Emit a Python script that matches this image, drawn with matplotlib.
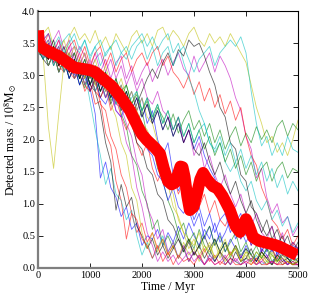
import numpy as np
import matplotlib
matplotlib.use("Agg")
import matplotlib.pyplot as plt

plt.rcParams['font.family'] = ['Liberation Serif', 'DejaVu Serif']
plt.rcParams['mathtext.fontset'] = 'stix'

# individual runs, sampled every 100 Myr from 0 to 5000
b1 = [3.5,3.3,3.45,3.2,3.4,3.15,3.3,3.0,3.2,2.95,2.8,2.4,1.4,1.65,1.25,1.1,0.8,0.95,0.6,0.7,0.35,0.5,0.45,0.6,0.35,0.55,0.4,0.65,0.45,0.7,0.5,0.35,0.6,0.45,0.7,0.4,0.55,0.75,0.45,0.6,0.4,0.55,0.35,0.5,0.3,0.45,0.25,0.4,0.2,0.35,0.3]
g1 = [3.4,3.55,3.25,3.45,3.15,3.35,3.05,3.25,2.95,3.15,2.85,3.05,2.75,2.95,2.6,2.75,2.4,2.2,1.75,1.6,1.2,1.0,0.6,0.75,0.35,0.5,0.3,0.55,0.25,0.45,0.3,0.6,0.35,0.2,0.45,0.25,0.4,0.15,0.35,0.2,0.3,0.1,0.25,0.15,0.3,0.1,0.2,0.15,0.05,0.15,0.1]
r1 = [3.6,3.35,3.5,3.2,3.35,3.1,3.25,2.95,3.05,2.75,2.9,2.55,2.6,2.1,1.9,1.35,1.05,0.45,0.85,0.55,0.7,0.4,0.55,0.3,0.45,0.2,0.35,0.15,0.3,0.1,0.25,0.15,0.3,0.1,0.2,0.05,0.15,0.25,0.1,0.05,0.15,0.1,0.05,0.15,0.05,0.1,0.05,0.1,0.05,0.1,0.05]
c1 = [3.3,3.45,3.15,3.35,3.05,3.25,2.95,3.15,2.85,3.05,2.6,2.15,1.75,1.3,1.55,1.15,1.05,0.75,0.9,0.5,0.2,0.4,0.15,0.3,0.5,0.25,0.4,0.15,0.3,0.1,0.25,0.15,0.05,0.2,0.1,0.25,0.05,0.15,0.1,0.05,0.15,0.1,0.2,0.05,0.1,0.05,0.15,0.05,0.1,0.05,0.05]
m1 = [3.5,3.65,3.35,3.55,3.7,3.4,3.55,3.25,3.45,3.3,3.1,3.35,3.05,3.25,2.95,3.2,3.3,2.95,3.15,2.85,3.05,3.2,2.9,3.1,3.25,3.0,3.2,3.35,3.1,3.0,3.3,3.05,3.2,3.35,3.05,3.3,3.15,2.95,2.65,2.45,2.05,1.85,1.4,1.55,1.1,0.85,1.0,0.7,0.8,0.5,0.65]
y1 = [3.4,3.3,2.2,1.55,2.4,3.2,3.6,3.75,3.55,3.65,3.5,3.7,3.45,3.6,3.4,3.65,3.5,3.35,3.6,3.7,3.5,3.65,3.45,3.7,3.75,3.55,3.7,3.6,3.45,3.65,3.75,3.55,3.45,3.65,3.5,3.6,3.45,3.65,3.5,3.35,3.2,2.85,2.5,2.25,1.95,2.05,1.8,1.95,1.75,2.0,2.3]
k1 = [3.5,3.35,3.25,3.45,3.15,3.35,3.05,3.2,2.95,3.15,2.85,2.75,2.45,1.95,1.65,0.9,1.3,0.95,1.1,0.65,0.5,0.3,0.45,0.2,0.35,0.15,0.3,0.45,0.25,0.4,0.2,0.35,0.5,0.3,0.45,0.25,0.4,0.2,0.35,0.15,0.3,0.2,0.1,0.25,0.15,0.3,0.1,0.2,0.15,0.05,0.1]
b2 = [3.4,3.25,3.5,3.3,3.45,3.15,3.35,3.05,3.25,2.95,3.15,2.85,3.05,2.75,2.95,2.65,2.85,2.55,2.75,2.45,2.65,2.25,2.45,2.0,1.75,1.95,1.45,1.2,1.4,0.9,0.65,0.85,0.45,0.65,0.35,0.55,0.25,0.45,0.3,0.15,0.35,0.2,0.1,0.3,0.2,0.05,0.25,0.15,0.05,0.2,0.1]
g2 = [3.3,3.45,3.15,3.35,3.05,3.25,2.95,3.15,3.0,2.8,3.05,2.75,2.95,2.65,2.85,2.55,2.75,2.85,2.55,2.7,2.45,2.6,2.3,2.5,2.35,2.15,2.4,2.1,2.3,2.45,2.15,2.3,2.05,2.25,1.95,2.15,1.85,2.05,2.2,1.9,2.1,1.95,2.2,2.0,2.15,1.95,2.2,2.3,2.05,2.25,2.15]
r2 = [3.6,3.45,3.65,3.35,3.55,3.25,3.45,3.55,3.25,3.45,3.15,3.35,3.45,3.15,3.35,3.05,3.25,3.35,3.05,3.25,3.35,3.15,3.35,3.45,3.15,3.3,3.05,2.95,2.8,3.0,2.7,2.9,2.6,2.8,2.5,2.7,2.4,2.6,2.3,2.5,2.05,1.75,1.6,1.25,1.05,0.75,0.65,0.45,0.6,0.35,0.5]
c2 = [3.4,3.55,3.65,3.45,3.6,3.35,3.5,3.65,3.4,3.55,3.3,3.45,3.55,3.3,3.45,3.55,3.35,3.25,3.45,3.55,3.65,3.45,3.6,3.4,3.55,3.65,3.35,3.5,3.2,2.95,2.75,2.45,2.25,1.95,1.8,1.95,1.65,1.5,1.65,1.35,1.2,1.35,1.05,0.9,1.05,0.75,0.9,0.65,0.8,0.55,0.7]
m2 = [3.5,3.25,3.45,3.15,3.35,3.05,3.25,2.95,3.15,2.85,3.05,2.75,2.95,2.65,2.85,2.55,2.5,2.25,2.05,1.65,1.45,0.95,0.75,0.45,0.6,0.25,0.4,0.15,0.35,0.1,0.25,0.15,0.05,0.2,0.1,0.25,0.05,0.15,0.1,0.2,0.05,0.15,0.05,0.1,0.2,0.05,0.15,0.05,0.1,0.05,0.05]
y2 = [3.6,3.35,3.55,3.25,3.45,3.15,3.35,3.05,3.25,2.95,3.15,2.85,2.75,2.95,2.55,2.35,1.95,1.75,1.25,1.05,0.55,0.3,0.55,0.25,0.45,0.2,0.35,0.15,0.4,0.2,0.3,0.1,0.25,0.35,0.15,0.25,0.1,0.2,0.3,0.1,0.2,0.05,0.15,0.25,0.1,0.05,0.15,0.05,0.1,0.05,0.1]
k2 = [3.4,3.25,3.15,3.35,3.05,3.25,2.95,3.15,2.85,3.05,2.75,2.95,2.65,2.85,2.55,2.75,2.45,2.65,2.35,2.55,2.75,2.95,3.1,2.95,3.2,3.35,3.15,3.4,3.3,3.55,3.45,3.5,3.3,3.05,2.85,2.5,2.35,1.95,1.85,1.45,1.35,0.95,0.85,0.65,0.5,0.65,0.35,0.5,0.25,0.4,0.3]
b3 = [3.5,3.35,3.25,3.45,3.15,3.35,3.05,3.25,2.95,3.15,2.85,3.05,2.75,2.95,2.65,2.85,2.55,2.75,2.45,2.65,2.35,2.55,2.25,2.45,2.15,2.35,2.05,2.25,1.95,2.15,1.85,2.05,1.75,1.55,1.4,1.15,0.95,1.05,0.7,0.85,0.5,0.65,0.35,0.5,0.25,0.45,0.2,0.35,0.15,0.3,0.2]
g3 = [3.4,3.55,3.25,3.45,3.15,3.35,3.05,3.25,2.95,3.15,2.85,3.05,2.75,2.95,2.65,2.85,2.55,2.75,2.45,2.25,2.45,2.05,1.95,1.55,1.35,1.05,0.85,0.55,0.7,0.4,0.55,0.3,0.5,0.65,0.35,0.5,0.25,0.4,0.55,0.25,0.4,0.2,0.35,0.15,0.3,0.2,0.1,0.25,0.15,0.1,0.15]
r3 = [3.5,3.35,3.25,3.45,3.15,3.35,3.05,2.95,3.15,2.85,3.05,2.75,2.65,2.85,2.45,2.65,2.35,2.15,2.35,1.95,1.75,1.95,1.55,1.35,1.55,1.25,1.45,1.15,1.35,1.05,1.25,0.95,1.15,0.85,1.05,0.75,0.65,0.85,0.55,0.45,0.65,0.35,0.5,0.25,0.4,0.3,0.15,0.35,0.2,0.3,0.2]
c3 = [3.3,3.45,3.55,3.3,3.45,3.55,3.65,3.45,3.35,3.55,3.25,3.45,3.15,3.35,3.45,3.15,3.35,3.45,3.25,3.45,3.55,3.25,3.45,3.15,3.35,3.45,3.15,3.35,3.45,3.25,3.05,3.25,3.35,3.45,3.15,3.35,3.45,3.55,3.45,3.6,3.35,2.75,2.25,1.9,2.05,1.75,1.95,1.75,2.05,1.85,1.8]
m3 = [3.3,3.45,3.55,3.3,3.45,3.15,3.35,3.45,3.15,3.35,3.05,3.25,3.35,3.05,3.25,2.95,3.15,2.85,3.05,2.75,2.95,2.65,2.55,2.75,2.45,2.35,2.15,2.35,1.95,2.15,1.75,1.95,1.55,1.75,1.45,1.25,1.45,1.15,0.95,1.15,0.85,0.65,0.85,0.55,0.45,0.65,0.35,0.55,0.25,0.4,0.3]
y3 = [3.5,3.65,3.75,3.45,3.35,3.55,3.25,3.45,3.15,3.35,3.05,3.25,2.95,3.15,2.85,2.75,2.95,2.65,2.55,2.45,2.25,2.15,1.95,1.75,1.45,1.3,0.95,0.8,0.55,0.45,0.35,0.55,0.25,0.4,0.15,0.3,0.45,0.2,0.35,0.1,0.25,0.2,0.05,0.2,0.1,0.25,0.05,0.2,0.1,0.05,0.15]
k3 = [3.6,3.45,3.35,3.55,3.25,3.45,3.15,3.35,3.05,3.25,2.95,3.15,2.85,3.05,2.75,2.95,2.65,2.45,2.25,1.95,1.85,1.55,1.45,1.15,1.05,0.75,0.65,0.45,0.3,0.45,0.2,0.35,0.15,0.3,0.1,0.25,0.15,0.05,0.25,0.1,0.15,0.3,0.1,0.25,0.15,0.05,0.2,0.1,0.15,0.05,0.1]
b4 = [3.3,3.45,3.15,3.35,3.05,3.25,2.95,3.15,2.85,3.05,2.75,2.95,2.65,2.55,2.75,2.45,2.35,2.55,2.25,2.05,2.25,1.85,1.75,1.45,1.35,1.05,1.25,0.95,0.85,1.05,0.75,0.95,0.65,0.85,0.55,0.75,0.85,0.55,0.75,0.45,0.65,0.35,0.55,0.25,0.45,0.25,0.4,0.2,0.35,0.15,0.25]
g4 = [3.4,3.25,3.45,3.15,3.35,3.05,3.25,3.35,3.05,3.25,2.95,3.15,2.85,3.05,2.75,2.95,2.65,2.85,2.55,2.75,2.45,2.65,2.35,2.55,2.25,2.45,2.15,2.35,2.05,2.25,1.95,2.15,1.85,2.05,1.75,1.95,1.65,1.85,1.55,1.75,1.45,1.65,1.35,1.55,1.65,1.35,1.55,1.65,1.4,1.55,1.5]
r4 = [3.4,3.55,3.25,3.45,3.15,3.05,3.25,2.95,3.15,2.85,2.75,2.95,2.55,2.45,2.05,1.85,1.45,1.25,0.85,0.75,0.45,0.35,0.15,0.35,0.1,0.25,0.05,0.2,0.1,0.15,0.05,0.2,0.05,0.15,0.05,0.1,0.05,0.15,0.05,0.05,0.1,0.05,0.15,0.05,0.05,0.1,0.05,0.05,0.1,0.05,0.05]
c4 = [3.5,3.25,3.45,3.15,3.35,3.05,3.25,2.95,3.15,2.85,3.05,2.75,2.95,2.65,2.85,2.55,2.75,2.45,2.65,2.75,2.45,2.65,2.35,2.55,2.25,2.45,2.15,2.35,2.05,2.25,1.95,2.15,2.25,1.95,1.85,2.05,1.75,1.95,1.65,1.85,1.55,1.75,1.45,1.65,1.35,1.55,1.25,1.45,1.15,1.35,1.2]
m4 = [3.4,3.55,3.65,3.35,3.55,3.25,3.45,3.15,3.35,3.05,3.25,2.95,2.85,2.65,2.85,2.45,2.35,1.95,1.75,1.25,0.95,0.55,0.35,0.1,0.25,0.1,0.2,0.05,0.15,0.25,0.1,0.2,0.05,0.15,0.05,0.1,0.2,0.05,0.15,0.05,0.1,0.15,0.05,0.1,0.05,0.1,0.05,0.15,0.05,0.1,0.05]
y4 = [3.3,3.45,3.15,3.35,3.05,3.25,3.35,3.05,3.25,2.95,3.15,2.85,3.05,2.75,2.95,2.65,2.85,2.55,2.75,2.45,2.65,2.35,2.25,1.95,1.75,1.35,1.15,0.75,0.55,0.3,0.45,0.2,0.35,0.25,0.4,0.15,0.35,0.2,0.3,0.1,0.25,0.1,0.25,0.15,0.05,0.2,0.1,0.15,0.1,0.05,0.1]
k4 = [3.5,3.35,3.25,3.45,3.15,3.35,3.05,3.25,2.95,3.15,2.85,3.05,2.75,2.95,2.65,2.85,2.55,2.75,2.45,2.65,2.35,2.55,2.25,2.45,2.15,2.35,2.05,2.25,1.95,2.15,1.85,1.75,1.95,1.65,1.45,1.65,1.35,1.15,1.35,1.05,0.85,1.05,0.75,0.55,0.75,0.45,0.6,0.35,0.5,0.25,0.4]

runs = [b1, g1, r1, c1, m1, y1, k1,
        b2, g2, r2, c2, m2, y2, k2,
        b3, g3, r3, c3, m3, y3, k3,
        b4, g4, r4, c4, m4, y4, k4]

# mean detected mass
mean_t = [0, 20, 100, 230, 400, 480, 600, 700, 865, 1000, 1100, 1230, 1420, 1550, 1635,
          1770, 1920, 2000, 2095, 2250, 2346, 2420, 2500, 2570, 2640, 2700, 2740, 2780,
          2820, 2870, 2920, 2990, 3055, 3120, 3175, 3250, 3365, 3450, 3550, 3690, 3800,
          3885, 3950, 4000, 4060, 4135, 4250, 4400, 4550, 4650, 4800, 4980]
mean_m = [3.70, 3.48, 3.42, 3.36, 3.30, 3.25, 3.18, 3.12, 3.10, 3.08, 3.05, 2.96, 2.83, 2.70, 2.61,
          2.45, 2.20, 2.08, 1.99, 1.87, 1.78, 1.55, 1.35, 1.30, 1.33, 1.48, 1.58, 1.57,
          1.42, 1.12, 0.90, 0.95, 1.15, 1.38, 1.48, 1.38, 1.27, 1.24, 1.12, 0.90, 0.65,
          0.56, 0.68, 0.76, 0.65, 0.48, 0.42, 0.39, 0.36, 0.33, 0.27, 0.20]

old_colors = ['b', 'g', 'r', 'c', 'm', 'y', 'k']

fig = plt.figure(figsize=(3.14, 3.0), dpi=100)
ax = fig.add_axes([0.121, 0.107, 0.828, 0.856])

for i, run in enumerate(runs):
    t = np.linspace(0, 5000, len(run))
    ax.plot(t, run, color=old_colors[i % 7], lw=0.6, alpha=0.6)

ax.plot(mean_t, mean_m, color='red', lw=8.5, solid_capstyle='butt',
        solid_joinstyle='round', zorder=5)

ax.set_xlim(0, 5000)
ax.set_ylim(0, 4.0)
ax.set_xticks([0, 1000, 2000, 3000, 4000, 5000])
ax.set_yticks(np.arange(0, 4.01, 0.5))
ax.set_yticklabels(['%.1f' % v for v in np.arange(0, 4.01, 0.5)])
ax.tick_params(direction='in', top=True, right=True, length=3.5, width=0.6, labelsize=7.5, pad=2)

for side in ['left', 'bottom']:
    ax.spines[side].set_color('#7f7f7f')
    ax.spines[side].set_linewidth(1.6)
for side in ['top', 'right']:
    ax.spines[side].set_linewidth(0.8)

ax.set_xlabel('Time / Myr', fontsize=8.5, labelpad=1)
ax.set_ylabel(r'Detected mass / $10^8\mathrm{M}_{\odot}$', fontsize=8.5, labelpad=2)

fig.savefig('out.png', dpi=100)
